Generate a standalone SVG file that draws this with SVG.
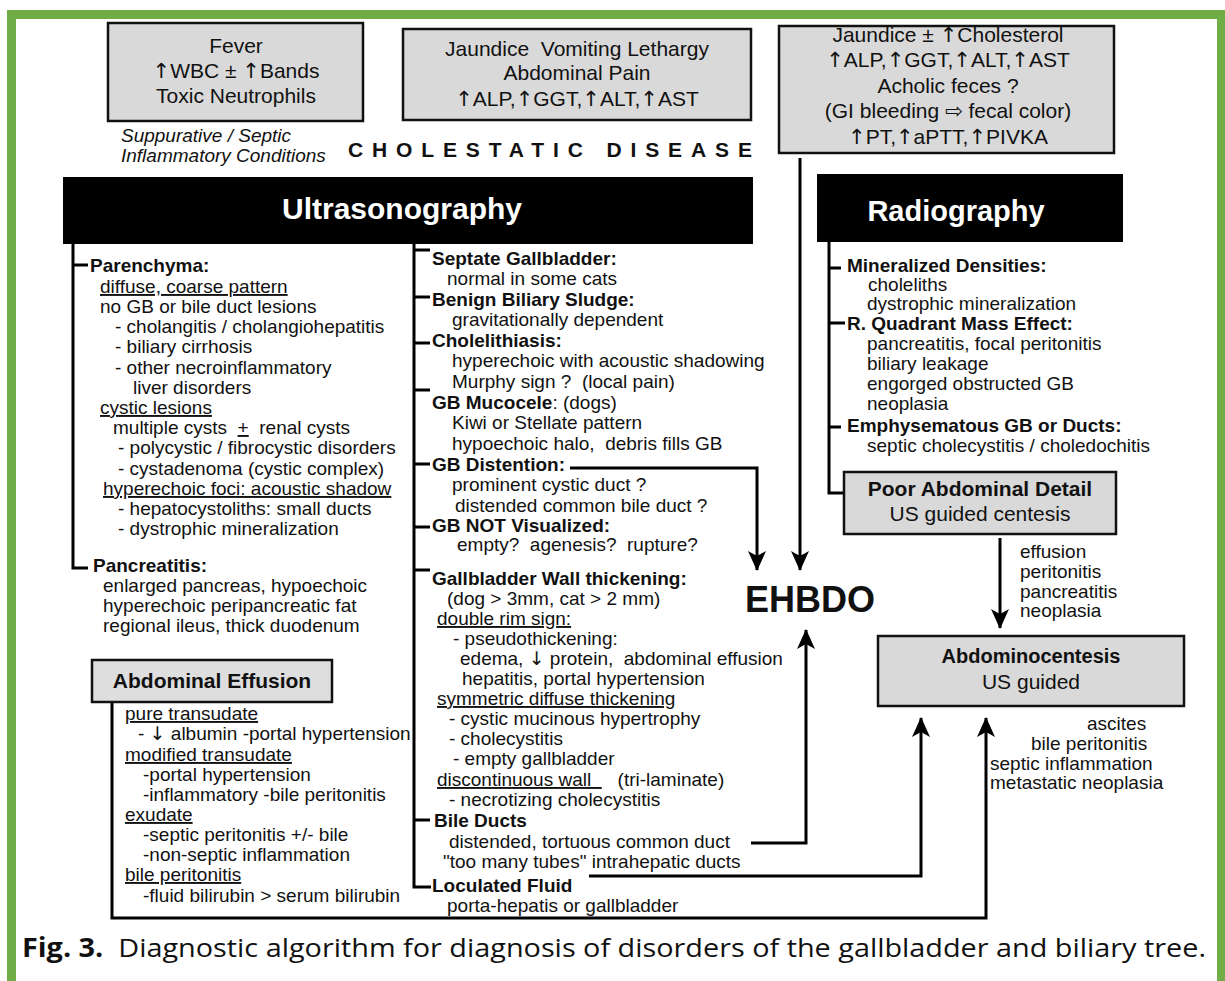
<svg xmlns="http://www.w3.org/2000/svg" width="1225" height="981" viewBox="0 0 1225 981">
<defs>
<style>
.t{font-family:"Liberation Sans",Arial,"DejaVu Sans",sans-serif;font-size:19px;fill:#111}
.b{font-weight:bold}
.u{text-decoration:underline}
.c{text-anchor:middle}
.bx{font-size:21px}
.ar{font-family:"DejaVu Sans",sans-serif;fill:#111}
.box{fill:#d9d9d9;stroke:#111;stroke-width:2.5}
.ln{stroke:#000;stroke-width:3;fill:none}
.arr{marker-end:url(#ah)}
.bartxt{font-family:"Liberation Sans",Arial,sans-serif;font-weight:bold;font-size:29px;fill:#fff;text-anchor:middle}
</style>
<marker id="ah" markerUnits="userSpaceOnUse" markerWidth="20" markerHeight="18" viewBox="0 0 20 18" refX="19" refY="9" orient="auto">
<path d="M0,0 L20,9 L0,18 L5,9 Z" fill="#000"/>
</marker>
</defs>
<rect width="1225" height="981" fill="#fff"/>
<g id="frame" fill="#70ad47">
<rect x="7" y="10" width="1218" height="9"/>
<rect x="7" y="10" width="9" height="971"/>
<rect x="1217" y="10" width="8" height="971"/>
</g>

<g id="fever">
<rect class="box" x="108" y="23" width="255" height="98"/>
<text class="t bx c" x="236" y="53">Fever</text>
<text class="t bx c" x="236" y="78"><tspan class="ar">↑&#xFE0E;</tspan>WBC ± <tspan class="ar">↑&#xFE0E;</tspan>Bands</text>
<text class="t bx c" x="236" y="103">Toxic Neutrophils</text>
</g>
<g id="suppurative">
<text class="t" x="121" y="142" font-style="italic">Suppurative / Septic</text>
<text class="t" x="121" y="162" font-style="italic">Inflammatory Conditions</text>
</g>
<g id="jaundice">
<rect class="box" x="403" y="29" width="348" height="91"/>
<text class="t bx c" x="577" y="56" xml:space="preserve">Jaundice  Vomiting Lethargy</text>
<text class="t bx c" x="577" y="80">Abdominal Pain</text>
<text class="t bx c" x="577" y="106"><tspan class="ar">↑&#xFE0E;</tspan>ALP,<tspan class="ar">↑&#xFE0E;</tspan>GGT,<tspan class="ar">↑&#xFE0E;</tspan>ALT,<tspan class="ar">↑&#xFE0E;</tspan>AST</text>
</g>
<g id="cholestasis">
<rect class="box" x="779" y="26" width="335" height="127"/>
<text class="t bx c" x="948" y="42">Jaundice ± <tspan class="ar">↑&#xFE0E;</tspan>Cholesterol</text>
<text class="t bx c" x="948" y="67"><tspan class="ar">↑&#xFE0E;</tspan>ALP,<tspan class="ar">↑&#xFE0E;</tspan>GGT,<tspan class="ar">↑&#xFE0E;</tspan>ALT,<tspan class="ar">↑&#xFE0E;</tspan>AST</text>
<text class="t bx c" x="948" y="93">Acholic feces ?</text>
<text class="t bx c" x="948" y="118">(GI bleeding <tspan class="ar">⇨</tspan> fecal color)</text>
<text class="t bx c" x="948" y="144"><tspan class="ar">↑&#xFE0E;</tspan>PT,<tspan class="ar">↑&#xFE0E;</tspan>aPTT,<tspan class="ar">↑&#xFE0E;</tspan>PIVKA</text>
</g>
<g id="title">
<text class="t b" x="348" y="157" style="font-size:21px" letter-spacing="8.87">CHOLESTATIC DISEASE</text>
</g>

<g id="ultrasonography">
<rect x="63" y="177" width="690" height="67" fill="#000"/>
<text class="bartxt" x="402" y="219" style="font-size:30px">Ultrasonography</text>
</g>
<g id="radiography">
<rect x="817" y="174" width="306" height="68" fill="#000"/>
<text class="bartxt" x="956" y="221">Radiography</text>
</g>

<g id="connectors">
<path class="ln" d="M73,244 V568 H88 M73,265 H88"/>
<path class="ln" d="M414,244 V887 H431 M414,250 H430 M414,297 H430 M414,343 H430 M414,390 H430 M414,464 H430 M414,527 H430 M414,570 H430 M414,820 H430"/>
<path class="ln" d="M829,242 V493 H844 M829,268 H841 M829,323 H845 M829,427 H841"/>
<path class="ln arr" d="M800,158 V570"/>
<path class="ln arr" d="M570,468 H757 V570"/>
<path class="ln arr" d="M751,843 H806 V630"/>
<path class="ln arr" d="M589,876 H921 V718"/>
<path class="ln arr" d="M112,702 V918 H986 V718"/>
<path class="ln arr" d="M1000,538 V628"/>
</g>

<g id="parenchyma">
<text class="t b" x="90" y="272">Parenchyma:</text>
<text class="t u" x="100" y="293">diffuse, coarse pattern</text>
<text class="t" x="100" y="313">no GB or bile duct lesions</text>
<text class="t" x="115" y="333">- cholangitis / cholangiohepatitis</text>
<text class="t" x="115" y="353">- biliary cirrhosis</text>
<text class="t" x="115" y="374">- other necroinflammatory</text>
<text class="t" x="133" y="394">liver disorders</text>
<text class="t u" x="100" y="414">cystic lesions</text>
<text class="t" x="113" y="434" xml:space="preserve">multiple cysts  <tspan class="u">+</tspan>  renal cysts</text>
<text class="t" x="118" y="454">- polycystic / fibrocystic disorders</text>
<text class="t" x="118" y="475">- cystadenoma (cystic complex)</text>
<text class="t u" x="103" y="495">hyperechoic foci: acoustic shadow</text>
<text class="t" x="118" y="515">- hepatocystoliths: small ducts</text>
<text class="t" x="118" y="535">- dystrophic mineralization</text>
</g>
<g id="pancreatitis">
<text class="t b" x="93" y="572">Pancreatitis:</text>
<text class="t" x="103" y="592">enlarged pancreas, hypoechoic</text>
<text class="t" x="103" y="612">hyperechoic peripancreatic fat</text>
<text class="t" x="103" y="632">regional ileus, thick duodenum</text>
</g>
<g id="abdominal-effusion">
<rect class="box" x="92" y="660" width="240" height="42" style="fill:#dedede"/>
<text class="t b c" x="212" y="688" style="font-size:21px">Abdominal Effusion</text>
<text class="t u" x="125" y="720">pure transudate</text>
<text class="t" x="138" y="740">- <tspan class="ar">↓&#xFE0E;</tspan> albumin -portal hypertension</text>
<text class="t u" x="125" y="761">modified transudate</text>
<text class="t" x="143" y="781">-portal hypertension</text>
<text class="t" x="143" y="801">-inflammatory -bile peritonitis</text>
<text class="t u" x="125" y="821">exudate</text>
<text class="t" x="143" y="841">-septic peritonitis +/- bile</text>
<text class="t" x="143" y="861">-non-septic inflammation</text>
<text class="t u" x="125" y="881">bile peritonitis</text>
<text class="t" x="143" y="902">-fluid bilirubin &gt; serum bilirubin</text>
</g>

<g id="gallbladder">
<text class="t b" x="432" y="265">Septate Gallbladder:</text>
<text class="t" x="447" y="285">normal in some cats</text>
<text class="t b" x="432" y="306">Benign Biliary Sludge:</text>
<text class="t" x="452" y="326">gravitationally dependent</text>
<text class="t b" x="432" y="347">Cholelithiasis:</text>
<text class="t" x="452" y="367">hyperechoic with acoustic shadowing</text>
<text class="t" x="452" y="388" xml:space="preserve">Murphy sign ?  (local pain)</text>
<text class="t" x="432" y="409"><tspan class="b">GB Mucocele</tspan>: (dogs)</text>
<text class="t" x="452" y="429">Kiwi or Stellate pattern</text>
<text class="t" x="452" y="450" xml:space="preserve">hypoechoic halo,  debris fills GB</text>
<text class="t b" x="432" y="471">GB Distention:</text>
<text class="t" x="452" y="491">prominent cystic duct ?</text>
<text class="t" x="455" y="512">distended common bile duct ?</text>
<text class="t b" x="432" y="532">GB NOT Visualized:</text>
<text class="t" x="457" y="551" xml:space="preserve">empty?  agenesis?  rupture?</text>
<text class="t b" x="432" y="585">Gallbladder Wall thickening:</text>
<text class="t" x="447" y="605">(dog &gt; 3mm, cat &gt; 2 mm)</text>
<text class="t u" x="437" y="625">double rim sign:</text>
<text class="t" x="453" y="645">- pseudothickening:</text>
<text class="t" x="460" y="665" xml:space="preserve">edema, <tspan class="ar">↓&#xFE0E;</tspan> protein,  abdominal effusion</text>
<text class="t" x="462" y="685">hepatitis, portal hypertension</text>
<text class="t u" x="437" y="705">symmetric diffuse thickening</text>
<text class="t" x="449" y="725">- cystic mucinous hypertrophy</text>
<text class="t" x="449" y="745">- cholecystitis</text>
<text class="t" x="453" y="765">- empty gallbladder</text>
<text class="t" x="437" y="786" xml:space="preserve"><tspan class="u">discontinuous wall  </tspan>   (tri-laminate)</text>
<text class="t" x="449" y="806">- necrotizing cholecystitis</text>
</g>
<g id="bile-ducts">
<text class="t b" x="434" y="827">Bile Ducts</text>
<text class="t" x="449" y="848">distended, tortuous common duct</text>
<text class="t" x="443" y="868">"too many tubes" intrahepatic ducts</text>
</g>
<g id="loculated-fluid">
<text class="t b" x="432" y="892">Loculated Fluid</text>
<text class="t" x="447" y="912">porta-hepatis or gallbladder</text>
</g>

<g id="ehbdo">
<text class="t b" x="745" y="612" style="font-size:36px">EHBDO</text>
</g>

<g id="radiography-findings">
<text class="t b" x="847" y="272">Mineralized Densities:</text>
<text class="t" x="868" y="291">choleliths</text>
<text class="t" x="867" y="310">dystrophic mineralization</text>
<text class="t b" x="847" y="330">R. Quadrant Mass Effect:</text>
<text class="t" x="867" y="350">pancreatitis, focal peritonitis</text>
<text class="t" x="867" y="370">biliary leakage</text>
<text class="t" x="867" y="390">engorged obstructed GB</text>
<text class="t" x="867" y="410">neoplasia</text>
<text class="t b" x="847" y="432">Emphysematous GB or Ducts:</text>
<text class="t" x="867" y="452">septic cholecystitis / choledochitis</text>
</g>
<g id="poor-detail">
<rect class="box" x="844" y="472" width="272" height="62"/>
<text class="t b c" x="980" y="496" style="font-size:21px">Poor Abdominal Detail</text>
<text class="t c" x="980" y="521" style="font-size:21px">US guided centesis</text>
</g>
<g id="effusion-labels">
<text class="t" x="1020" y="558">effusion</text>
<text class="t" x="1020" y="578">peritonitis</text>
<text class="t" x="1020" y="598">pancreatitis</text>
<text class="t" x="1020" y="617">neoplasia</text>
</g>
<g id="abdominocentesis">
<rect class="box" x="878" y="636" width="306" height="70"/>
<text class="t b c" x="1031" y="663" style="font-size:20px">Abdominocentesis</text>
<text class="t c" x="1031" y="689" style="font-size:21px">US guided</text>
</g>
<g id="centesis-findings">
<text class="t" x="1087" y="730">ascites</text>
<text class="t" x="1031" y="750">bile peritonitis</text>
<text class="t" x="990" y="770">septic inflammation</text>
<text class="t" x="990" y="789">metastatic neoplasia</text>
</g>

<g id="caption">
<text x="22" y="957" font-family="'Open Sans','Noto Sans','DejaVu Sans',sans-serif" font-size="26" fill="#111" textLength="1184" lengthAdjust="spacingAndGlyphs"><tspan font-weight="bold">Fig. 3.</tspan>&#160; Diagnostic algorithm for diagnosis of disorders of the gallbladder and biliary tree.</text>
</g>
</svg>
